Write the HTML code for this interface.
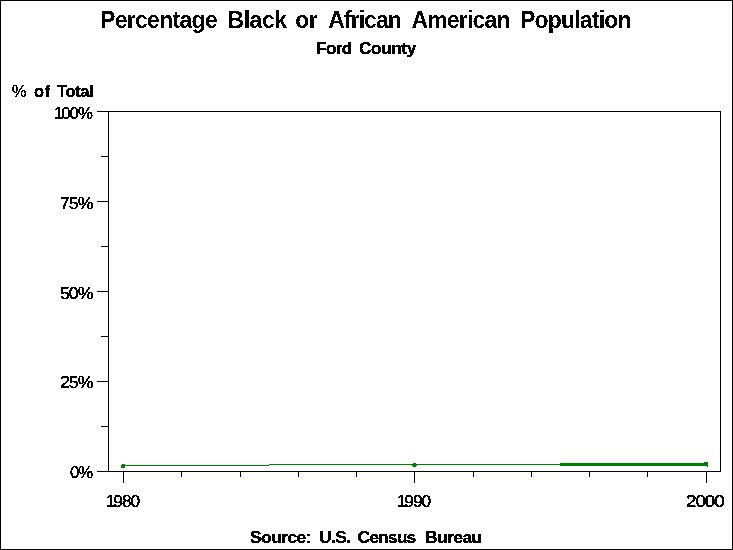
<!DOCTYPE html>
<html>
<head>
<meta charset="utf-8">
<title>Percentage Black or African American Population</title>
<style>
html,body{margin:0;padding:0;background:#fff;}
body{width:733px;height:550px;overflow:hidden;}
svg{display:block;}
text{font-family:"Liberation Sans",sans-serif;fill:#000;}
</style>
</head>
<body>
<svg width="733" height="550" viewBox="0 0 733 550">
<defs>
<filter id="px" x="0" y="0" width="733" height="550" filterUnits="userSpaceOnUse" color-interpolation-filters="sRGB">
<feComponentTransfer><feFuncA type="discrete" tableValues="0 1"/></feComponentTransfer>
</filter>
</defs>
<rect x="0" y="0" width="733" height="550" fill="#fff"/>
<g shape-rendering="crispEdges" fill="#000">
<!-- outer border -->
<rect x="0" y="0" width="733" height="1"/>
<rect x="0" y="549" width="733" height="1"/>
<rect x="0" y="0" width="1" height="550"/>
<rect x="732" y="0" width="1" height="550"/>
<!-- plot frame -->
<rect x="108" y="111" width="613" height="1"/>
<rect x="108" y="471" width="613" height="1"/>
<rect x="108" y="111" width="1" height="361"/>
<rect x="720" y="111" width="1" height="361"/>
<!-- y major ticks -->
<rect x="97" y="111" width="11" height="1"/>
<rect x="97" y="201" width="11" height="1"/>
<rect x="97" y="291" width="11" height="1"/>
<rect x="97" y="381" width="11" height="1"/>
<rect x="97" y="471" width="11" height="1"/>
<!-- y minor ticks -->
<rect x="101" y="156" width="7" height="1"/>
<rect x="101" y="246" width="7" height="1"/>
<rect x="101" y="336" width="7" height="1"/>
<rect x="101" y="426" width="7" height="1"/>
<!-- x major ticks -->
<rect x="123" y="472" width="1" height="11"/>
<rect x="414" y="472" width="1" height="11"/>
<rect x="706" y="472" width="1" height="11"/>
<!-- x minor ticks -->
<rect x="181" y="472" width="1" height="5"/>
<rect x="240" y="472" width="1" height="5"/>
<rect x="298" y="472" width="1" height="5"/>
<rect x="356" y="472" width="1" height="5"/>
<rect x="473" y="472" width="1" height="5"/>
<rect x="531" y="472" width="1" height="5"/>
<rect x="589" y="472" width="1" height="5"/>
<rect x="647" y="472" width="1" height="5"/>
</g>
<!-- data series -->
<g shape-rendering="crispEdges" fill="#008000">
<rect x="123" y="465" width="146" height="1"/>
<rect x="269" y="464" width="291" height="1"/>
<rect x="560" y="463" width="148" height="3"/>
<rect x="122" y="464" width="3" height="4"/>
<rect x="121" y="465" width="1" height="3"/>
<rect x="413" y="463" width="3" height="4"/>
<rect x="412" y="464" width="5" height="2"/>
<rect x="704" y="462" width="4" height="1"/>
<rect x="707" y="466" width="1" height="1"/>
</g>
<g filter="url(#px)">
<text transform="translate(100,28)" font-size="23" font-weight="bold"><tspan x="0" letter-spacing="-0.7">Percentage</tspan> <tspan x="127.5" letter-spacing="-0.45">Black</tspan> <tspan x="195.3" letter-spacing="-0.7">or</tspan> <tspan x="228.3" letter-spacing="-0.96">African</tspan> <tspan x="311.4" letter-spacing="-0.81">American</tspan> <tspan x="420" letter-spacing="-0.81">Population</tspan></text>
<text transform="translate(316,54) scale(1.08,1)" font-size="16" font-weight="bold" stroke="#000"><tspan x="0" letter-spacing="-0.6" stroke-width="0.3">Ford</tspan> <tspan x="39.81" letter-spacing="-0.41" stroke-width="0.3">County</tspan></text>
<text transform="translate(12,97) scale(1.03,1)" font-size="16" font-weight="bold" stroke="#000"><tspan x="0" letter-spacing="-0.6" font-weight="normal" stroke-width="0.35">%</tspan> <tspan x="21.36" letter-spacing="0.37" stroke-width="0.3">of</tspan> <tspan x="43.69" letter-spacing="-0.36" stroke-width="0.3">Total</tspan></text>
<text transform="translate(250,543) scale(1.1,1)" font-size="16" font-weight="bold" stroke="#000"><tspan x="0" letter-spacing="-0.6" stroke-width="0.3">Source:</tspan> <tspan x="62.73" letter-spacing="-0.6" stroke-width="0.3">U.S.</tspan> <tspan x="97.73" letter-spacing="-0.87" stroke-width="0.3">Census</tspan> <tspan x="159.09" letter-spacing="-0.6" stroke-width="0.3">Bureau</tspan></text>
<text transform="translate(54,119) scale(1.05,1)" font-size="16" letter-spacing="-0.9" stroke="#000" stroke-width="0.35">1<tspan dx="-1.2">00%</tspan></text>
<text transform="translate(60,209) scale(1.11,1)" font-size="16" letter-spacing="-0.9" stroke="#000" stroke-width="0.35">75%</text>
<text transform="translate(60,299) scale(1.11,1)" font-size="16" letter-spacing="-0.9" stroke="#000" stroke-width="0.35">50%</text>
<text transform="translate(60,388) scale(1.11,1)" font-size="16" letter-spacing="-0.9" stroke="#000" stroke-width="0.35">25%</text>
<text transform="translate(70,478) scale(1.04,1)" font-size="16" letter-spacing="-0.9" stroke="#000" stroke-width="0.35">0%</text>
<text transform="translate(106,507) scale(1.08,1)" font-size="16" letter-spacing="-0.9" stroke="#000" stroke-width="0.35">1<tspan dx="-1.2">980</tspan></text>
<text transform="translate(397,507) scale(1.08,1)" font-size="16" letter-spacing="-0.9" stroke="#000" stroke-width="0.35">1<tspan dx="-1.2">990</tspan></text>
<text transform="translate(686,507) scale(1.18,1)" font-size="16" letter-spacing="-0.9" stroke="#000" stroke-width="0.35">2000</text>
</g>
</svg>
</body>
</html>
